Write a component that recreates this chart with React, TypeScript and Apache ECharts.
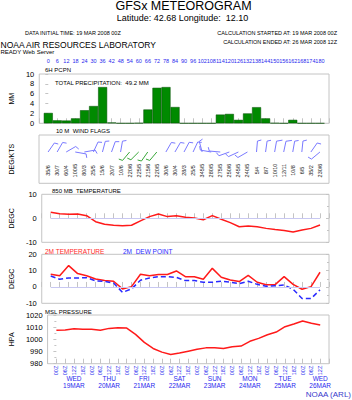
import React, { useEffect, useRef } from "react";
import * as echarts from "echarts";

const hours = [0, 6, 12, 18, 24, 30, 36, 42, 48, 54, 60, 66, 72, 78, 84, 90, 96, 102, 108, 114, 120, 126, 132, 138, 144, 150, 156, 162, 168, 174, 180];
const precip = [2.1, 0.6, 0.55, 1.0, 2.65, 3.5, 7.35, 0.15, 0, 0, 0.05, 2.8, 7.2, 7.35, 3.3, 0, 0, 0, 0, 1.77, 1.9, 0.7, 2.0, 3.27, 1.0, 0.05, 0, 0.7, 0, 0, 0];
const windDir = [35, 30, 60, 100, 80, 25, 15, 20, 10, 220, 225, 215, 220, 30, 30, 28, 25, 345, 280, 275, 250, 245, 240, 5, 8, 10, 12, 10, 6, 35, 230];
const windSpd = [6, 7, 4, 5, 3, 5, 6, 7, 6, 6, 5, 6, 5, 6, 4, 3, 5, 5, 5, 5, 6, 5, 5, 4, 7, 10, 11, 8, 5, 2, 6];
const windGreen = [0, 0, 0, 0, 0, 0, 0, 0, 0, 1, 1, 1, 1, 0, 0, 0, 0, 0, 0, 0, 0, 0, 0, 0, 0, 0, 0, 0, 0, 0, 0];
const t850 = [2.5, 1.9, 1.7, 1.8, 1.1, -1.4, -2.5, -2.9, -3.1, -2.9, -1.1, 0.7, 1.8, 0.7, 1.1, 0.4, 0.1, -0.6, 1.1, -0.4, -1.8, -3.5, -3.2, -3.5, -4.2, -4.7, -5.1, -5.7, -4.9, -4.2, -2.8];
const t2m = [7.8, 6.9, 13.1, 8.2, 6.9, 4.9, 3.9, 3.5, -1.2, 0.2, 7.8, 6.9, 7.6, 7.6, 9.8, 6.3, 6.3, 4.7, 11.4, 5.9, 4.3, 3.3, 7.1, 2.9, 1.4, 1.4, 6.3, 1.6, -1.4, 0.2, 9.0];
const dew = [6.7, 4.7, 5.5, 5.5, 5.7, 3.7, 3.5, 2.4, -3.3, -1.2, 4.1, 5.5, 6.3, 6.3, 5.9, 3.9, 3.9, 2.9, 2.9, 3.5, 2.9, 2.0, 3.5, 1.6, 0.4, 0.8, 1.2, -1.4, -7.1, -7.1, -1.8];
const pressure = [1007.4, 1007.7, 1008.8, 1008.2, 1008.2, 1007.4, 1009.0, 1009.6, 1009.3, 1004.1, 997.5, 992.5, 989.5, 987.6, 988.8, 990.3, 991.8, 993.0, 993.0, 992.5, 994.0, 994.5, 998.4, 1000.8, 1003.8, 1006.0, 1010.4, 1012.6, 1015.1, 1013.2, 1011.8];
const dayNames = ["WED", "THU", "FRI", "SAT", "SUN", "MON", "TUE", "WED"];
const dayDates = ["19MAR", "20MAR", "21MAR", "22MAR", "23MAR", "24MAR", "25MAR", "26MAR"];

const FONT = "'Liberation Sans', Arial, sans-serif";
const BLUE = "#2a2aee";
const FRAME = "#c4c4c4";

const grids = [
  { top: 74, height: 49.3 },
  { top: 135, height: 48.3 },
  { top: 194.3, height: 48 },
  { top: 254.3, height: 49 },
  { top: 315, height: 48.7 },
];
const yRanges = [
  { min: 0, max: 10, interval: 2, name: "MM", labels: true },
  { min: 0, max: 1, interval: 1, name: "DEG/KTS", labels: false },
  { min: -10, max: 10, interval: 10, name: "DEGC", labels: true },
  { min: -10, max: 20, interval: 10, name: "DEGC", labels: true },
  { min: 980, max: 1020, interval: 10, name: "HPA", labels: true },
];

function pair(arr: number[]) {
  return hours.map((h, i) => [h, arr[i]]);
}

const zeroLine = {
  silent: true,
  symbol: ["none", "none"],
  label: { show: false },
  lineStyle: { color: "#c8c8f2", type: "solid", width: 1 },
  data: [[{ coord: [0, 0] }, { coord: [180, 0] }]],
};

function txt(x: number, y: number, text: string, size: number, fill = "#000", align = "left") {
  return {
    type: "text",
    x,
    y,
    silent: true,
    style: { text, fontSize: size, fill, align, verticalAlign: "middle", fontFamily: FONT },
  };
}

export default function App() {
  const ref = useRef<HTMLDivElement>(null);
  useEffect(() => {
    if (!ref.current) return;
    const chart = echarts.init(ref.current, null, { renderer: "svg" });

    const xAxis: any[] = grids.map((g, i) => ({
      type: "value",
      gridIndex: i,
      min: -6,
      max: 186,
      interval: 6,
      axisLine: { show: false },
      axisTick: { show: i !== 1, inside: true, length: 5, lineStyle: { color: FRAME } },
      splitLine: { show: false },
      axisLabel:
        i === 4
          ? {
              show: true,
              rotate: 90,
              margin: 2,
              fontSize: 5.5,
              color: BLUE,
              fontFamily: FONT,
              hideOverlap: false,
              formatter: (v: number) => (v < 0 || v > 180 ? "" : String(v % 24).padStart(2, "0") + "Z"),
            }
          : { show: false },
    }));
    xAxis.push({
      type: "value",
      gridIndex: 0,
      position: "top",
      min: -6,
      max: 186,
      interval: 6,
      axisLine: { show: false },
      axisTick: { show: false },
      splitLine: { show: false },
      axisLabel: {
        show: true,
        margin: 10,
        fontSize: 5.5,
        color: BLUE,
        fontFamily: FONT,
        hideOverlap: false,
        formatter: (v: number) => (v < 0 || v > 180 ? "" : String(v)),
      },
    });
    xAxis.push({
      type: "value",
      gridIndex: 4,
      position: "bottom",
      min: -6,
      max: 186,
      interval: 6,
      axisLine: { show: false },
      axisTick: { show: false },
      splitLine: { show: false },
      axisLabel: {
        show: true,
        margin: 12,
        fontSize: 6.5,
        lineHeight: 6.5,
        color: BLUE,
        fontFamily: FONT,
        hideOverlap: false,
        formatter: (v: number) => {
          if (v < 0 || v > 180 || (v - 12) % 24 !== 0) return "";
          const k = (v - 12) / 24;
          return dayNames[k] + "\n" + dayDates[k];
        },
      },
    });

    const yAxis: any[] = yRanges.map((r, i) => ({
      type: "value",
      gridIndex: i,
      min: r.min,
      max: r.max,
      interval: r.interval,
      position: "left",
      name: r.name,
      nameLocation: "middle",
      nameRotate: 90,
      nameGap: 24,
      nameTextStyle: { fontSize: 7, color: "#000", fontFamily: FONT },
      axisLine: { show: false },
      axisTick: { show: false },
      splitLine: { show: false },
      axisLabel: {
        show: r.labels,
        fontSize: 7.5,
        color: "#000",
        margin: 5,
        fontFamily: FONT,
        showMinLabel: true,
        showMaxLabel: true,
        formatter: (v: number) => String(v),
      },
    }));
    yRanges.forEach((r, i) => {
      yAxis.push({
        type: "value",
        gridIndex: i,
        min: r.min,
        max: r.max,
        interval: r.interval,
        position: "right",
        axisLine: { show: false },
        axisTick: { show: i !== 1, inside: true, length: 3, lineStyle: { color: FRAME } },
        minorTick: { show: i >= 2, splitNumber: 2, length: 2, lineStyle: { color: FRAME } },
        splitLine: { show: false },
        axisLabel: { show: false },
      });
    });

    const windData = hours.map((h, i) => [h, windDir[i], windSpd[i], windGreen[i]]);

    const option: any = {
      animation: false,
      backgroundColor: "#fff",
      textStyle: { fontFamily: FONT },
      grid: grids.map((g) => ({
        left: 38,
        width: 291,
        top: g.top,
        height: g.height,
        show: true,
        borderColor: FRAME,
        borderWidth: 1,
        backgroundColor: "transparent",
      })),
      xAxis,
      yAxis,
      series: [
        {
          type: "bar",
          xAxisIndex: 0,
          yAxisIndex: 0,
          data: pair(precip),
          barWidth: 9,
          itemStyle: { color: "#008a00", borderColor: "#004a00", borderWidth: 0.5 },
        },
        {
          type: "custom",
          xAxisIndex: 1,
          yAxisIndex: 1,
          data: windData,
          renderItem: (params: any, api: any) => {
            const h = api.value(0);
            const dir = api.value(1);
            const spd = api.value(2);
            const g = api.value(3);
            const cs = params.coordSys;
            const x = api.coord([h, 0])[0];
            const sy = cs.y + 17;
            const L = 11;
            const rad = (dir * Math.PI) / 180;
            const ux = Math.sin(rad);
            const uy = -Math.cos(rad);
            const ex = x + ux * L;
            const ey = sy + uy * L;
            const a = (70 * Math.PI) / 180;
            const bx = ux * Math.cos(a) - uy * Math.sin(a);
            const by = ux * Math.sin(a) + uy * Math.cos(a);
            const color = g ? "#3aa83a" : "#7a7aff";
            const children: any[] = [
              { type: "line", shape: { x1: x, y1: sy, x2: ex, y2: ey }, style: { stroke: color, lineWidth: 1 } },
            ];
            let full = Math.floor(spd / 10);
            let half = spd % 10 >= 5 ? 1 : 0;
            if (full + half === 0) half = 1;
            let off = 0;
            for (let k = 0; k < full; k++) {
              const px = ex - ux * off;
              const py = ey - uy * off;
              children.push({ type: "line", shape: { x1: px, y1: py, x2: px + bx * 6, y2: py + by * 6 }, style: { stroke: color, lineWidth: 1 } });
              off += 2.5;
            }
            if (half) {
              const px = ex - ux * off;
              const py = ey - uy * off;
              children.push({ type: "line", shape: { x1: px, y1: py, x2: px + bx * 4, y2: py + by * 4 }, style: { stroke: color, lineWidth: 1 } });
            }
            children.push({
              type: "text",
              x: x,
              y: cs.y + 35.5,
              rotation: Math.PI / 2,
              style: { text: dir + "/" + spd, fontSize: 5.5, fill: "#222", align: "center", verticalAlign: "middle", fontFamily: FONT },
            });
            return { type: "group", children };
          },
        },
        {
          type: "line",
          xAxisIndex: 2,
          yAxisIndex: 2,
          data: pair(t850),
          symbol: "none",
          lineStyle: { color: "#ff1a1a", width: 1.5 },
          markLine: zeroLine,
          z: 3,
        },
        {
          type: "line",
          xAxisIndex: 3,
          yAxisIndex: 3,
          data: pair(t2m),
          symbol: "none",
          lineStyle: { color: "#ff1a1a", width: 1.5 },
          markLine: zeroLine,
          z: 3,
        },
        {
          type: "line",
          xAxisIndex: 3,
          yAxisIndex: 3,
          data: pair(dew),
          symbol: "none",
          lineStyle: { color: "#2a2aff", width: 1.5, type: [5, 3] },
          z: 4,
        },
        {
          type: "line",
          xAxisIndex: 4,
          yAxisIndex: 4,
          data: pair(pressure),
          symbol: "none",
          lineStyle: { color: "#ff1a1a", width: 1.5 },
        },
      ],
      graphic: {
        elements: [
          txt(183.5, 6.2, "GFSx METEOROGRAM", 12.5, "#000", "center"),
          txt(182.5, 17.8, "Latitude: 42.68 Longitude:  12.10", 9, "#000", "center"),
          txt(25, 33, "DATA INITIAL TIME: 19 MAR 2008 00Z", 5.5),
          txt(337, 33, "CALCULATION STARTED AT: 19 MAR 2008 00Z", 5.5, "#000", "right"),
          txt(337, 42, "CALCULATION ENDED AT: 26 MAR 2008 12Z", 5.5, "#000", "right"),
          txt(0.5, 44.5, "NOAA AIR RESOURCES LABORATORY", 8.5),
          txt(0.5, 52, "READY Web Server", 6),
          txt(45, 70, "6H PCPN", 6),
          txt(55, 83, "TOTAL PRECIPITATION:  49.2 MM", 6),
          txt(56, 131, "10 M  WIND FLAGS", 6),
          txt(52, 191, "850 MB  TEMPERATURE", 6),
          txt(45, 251, "2M TEMPERATURE", 6.5, "#ff2a2a"),
          txt(123, 251, "2M  DEW POINT", 6.5, "#2a2aff"),
          txt(45, 311.5, "MSL PRESSURE", 6),
          txt(351, 394, "NOAA (ARL)", 8, "#3a3acc", "right"),
        ],
      },
    };
    chart.setOption(option);
    return () => chart.dispose();
  }, []);
  return (
    <div
      ref={ref}
      style={{ position: "fixed", left: 0, top: 0, width: 352, height: 400, background: "#fff" }}
    />
  );
}
